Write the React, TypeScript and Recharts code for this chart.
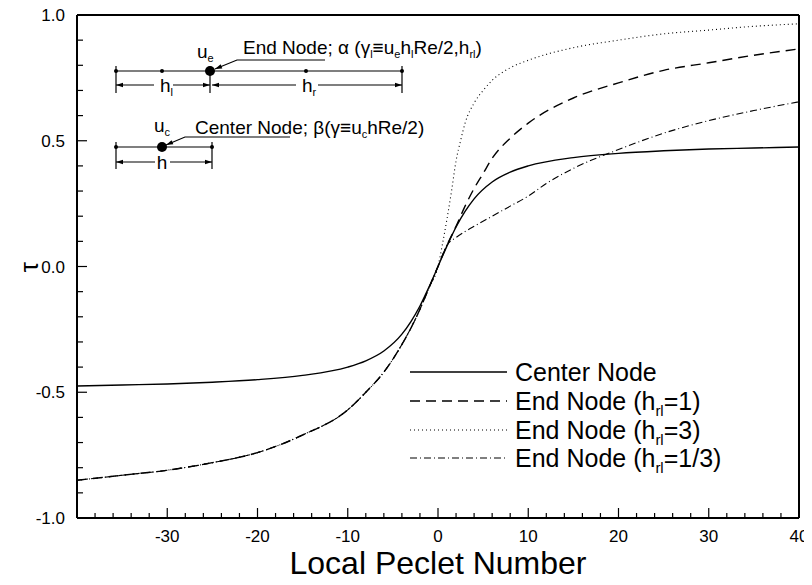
import { LineChart, Line, XAxis, YAxis, Customized } from 'recharts'

const font = "'Liberation Sans', Arial, Helvetica, sans-serif"

// centre node: tau vs local Peclet number
const centerX = [-40, -35, -30, -25, -20, -15, -10, -8, -6, -4, -3, -2, -1, 0, 1, 2, 3, 4, 6, 8, 10, 15, 20, 25, 30, 35, 40]
const centerTau = [-0.475, -0.471, -0.467, -0.46, -0.45, -0.433, -0.4, -0.375, -0.336, -0.269, -0.219, -0.157, -0.082, 0, 0.082, 0.157, 0.219, 0.269, 0.336, 0.375, 0.4, 0.433, 0.45, 0.46, 0.467, 0.471, 0.475]

// end nodes share the same branch for negative Pe
const endNegX = [-40, -35, -30, -25, -20, -15, -10, -8, -6, -4, -3, -2, -1, 0]
const endNegTau = [-0.85, -0.83, -0.81, -0.78, -0.74, -0.67, -0.57, -0.5, -0.42, -0.31, -0.245, -0.17, -0.085, 0]

const end1X = [1, 2, 3, 4, 5, 6, 8, 10, 15, 20, 25, 30, 35, 40]
const end1Tau = [0.085, 0.16, 0.24, 0.31, 0.37, 0.43, 0.51, 0.57, 0.67, 0.73, 0.78, 0.81, 0.84, 0.865]

const end3X = [0.5, 1, 1.5, 2, 2.5, 3, 4, 5, 6, 8, 10, 15, 20, 25, 30, 35, 40]
const end3Tau = [0.09, 0.19, 0.3, 0.42, 0.5, 0.57, 0.65, 0.7, 0.74, 0.79, 0.82, 0.87, 0.9, 0.925, 0.94, 0.955, 0.965]

const end13X = [1, 2, 4, 6, 8, 10, 12, 15, 20, 25, 30, 35, 40]
const end13Tau = [0.085, 0.115, 0.16, 0.2, 0.24, 0.28, 0.33, 0.39, 0.465, 0.53, 0.58, 0.62, 0.655]

const xLabels = [-30, -20, -10, 0, 10, 20, 30, 40]
const yLabels = [-1, -0.5, 0, 0.5, 1]
const xTicks = Array.from({ length: 41 }, (_, i) => -40 + 2 * i)
const yTicks = Array.from({ length: 21 }, (_, i) => Math.round((-1 + 0.1 * i) * 10) / 10)

const toPoints = (xs: number[], ys: number[]) => xs.map((x, i) => ({ x, tau: ys[i] }))

const centerData = toPoints(centerX, centerTau)
const end1Data = toPoints([...endNegX, ...end1X], [...endNegTau, ...end1Tau])
const end3Data = toPoints([...endNegX, ...end3X], [...endNegTau, ...end3Tau])
const end13Data = toPoints([...endNegX, ...end13X], [...endNegTau, ...end13Tau])

const series = [
  { key: 'center', data: centerData, dash: undefined, width: 1.4, label: 'Center Node', sub: '', tail: '' },
  { key: 'end1', data: end1Data, dash: '10 6', width: 1.4, label: 'End Node (h', sub: 'rl', tail: '=1)' },
  { key: 'end3', data: end3Data, dash: '1 3', width: 1.1, label: 'End Node (h', sub: 'rl', tail: '=3)' },
  { key: 'end13', data: end13Data, dash: '7 3 1 3', width: 1.1, label: 'End Node (h', sub: 'rl', tail: '=1/3)' },
]

const isMajorX = (v: number) => v % 10 === 0
const isMajorY = (v: number) => Math.abs(v * 2 - Math.round(v * 2)) < 1e-6

function BottomTick({ x, y, payload }: any) {
  const v = payload.value
  return (
    <g>
      <line x1={x} x2={x} y1={y} y2={y - (isMajorX(v) ? 10 : 5)} stroke="#000" strokeWidth={1.2} />
      {xLabels.includes(v) && (
        <text x={x} y={y + 24} textAnchor="middle" fontSize={17} fontFamily={font} fill="#000">
          {v}
        </text>
      )}
    </g>
  )
}

function TopTick({ x, y, payload }: any) {
  const v = payload.value
  return <line x1={x} x2={x} y1={y} y2={y + (isMajorX(v) ? 10 : 5)} stroke="#000" strokeWidth={1.2} />
}

function LeftTick({ x, y, payload }: any) {
  const v = payload.value
  const lab = yLabels.find((l) => Math.abs(l - v) < 1e-6)
  return (
    <g>
      <line x1={x} x2={x + (isMajorY(v) ? 10 : 6)} y1={y} y2={y} stroke="#000" strokeWidth={1.2} />
      {lab !== undefined && (
        <text x={x - 12} y={y + 6} textAnchor="end" fontSize={17} fontFamily={font} fill="#000">
          {lab.toFixed(1)}
        </text>
      )}
    </g>
  )
}

function RightTick({ x, y, payload }: any) {
  const v = payload.value
  return <line x1={x} x2={x - (isMajorY(v) ? 10 : 6)} y1={y} y2={y} stroke="#000" strokeWidth={1.2} />
}

// small filled arrowhead with tip at (x, y), coming from (fx, fy)
function Arrow({ x, y, fx, fy }: { x: number; y: number; fx: number; fy: number }) {
  const len = Math.hypot(x - fx, y - fy)
  const ux = (x - fx) / len
  const uy = (y - fy) / len
  const bx = x - ux * 7
  const by = y - uy * 7
  const pts = `${x},${y} ${bx - uy * 2.2},${by + ux * 2.2} ${bx + uy * 2.2},${by - ux * 2.2}`
  return <polygon points={pts} fill="#000" />
}

// text with subscripts: parts alternate normal / subscript as flagged
function Rich({ x, y, parts, size = 19, anchor }: { x: number; y: number; parts: [string, boolean][]; size?: number; anchor?: string }) {
  let lowered = false
  return (
    <text x={x} y={y} fontSize={size} textAnchor={anchor}>
      {parts.map(([t, sub], i) => {
        const dy = sub && !lowered ? 4 : !sub && lowered ? -4 : 0
        lowered = sub
        return (
          <tspan key={i} dy={dy} fontSize={sub ? 11 : size}>
            {t}
          </tspan>
        )
      })}
    </text>
  )
}

function Annotations() {
  const s = { stroke: '#000', strokeWidth: 1.2 }
  return (
    <g fontFamily={font} fill="#000">
      {/* end node sketch */}
      <line x1={116} y1={71} x2={402} y2={71} {...s} />
      {[116, 162, 306, 402].map((x) => <circle key={x} cx={x} cy={71} r={2} />)}
      <circle cx={210} cy={71} r={5} />
      {[116, 210, 402].map((x) => <line key={x} x1={x} x2={x} y1={66} y2={93} {...s} />)}
      <line x1={116} x2={154} y1={85} y2={85} {...s} />
      <line x1={173} x2={210} y1={85} y2={85} {...s} />
      <line x1={212} x2={296} y1={85} y2={85} {...s} />
      <line x1={318} x2={402} y1={85} y2={85} {...s} />
      <Arrow x={116} y={85} fx={128} fy={85} />
      <Arrow x={210} y={85} fx={198} fy={85} />
      <Arrow x={212} y={85} fx={224} fy={85} />
      <Arrow x={402} y={85} fx={390} fy={85} />
      <Rich x={160} y={92} parts={[['h', false], ['l', true]]} />
      <Rich x={302} y={92} parts={[['h', false], ['r', true]]} />
      <Rich x={197} y={58} parts={[['u', false], ['e', true]]} />
      <polyline points="215,69 237,60 325,60" fill="none" {...s} />
      <Arrow x={215} y={69} fx={237} fy={60} />
      <Rich
        x={243}
        y={54}
        parts={[
          ['End Node; α  (γ', false],
          ['l', true],
          ['≡u', false],
          ['e', true],
          ['h', false],
          ['l', true],
          ['Re/2,h', false],
          ['rl', true],
          [')', false],
        ]}
      />

      {/* center node sketch */}
      <line x1={116} y1={147} x2={212} y2={147} {...s} />
      {[116, 212].map((x) => <circle key={x} cx={x} cy={147} r={2} />)}
      <circle cx={162} cy={147} r={5} />
      {[116, 212].map((x) => <line key={x} x1={x} x2={x} y1={142} y2={169} {...s} />)}
      <line x1={116} x2={155} y1={162} y2={162} {...s} />
      <line x1={170} x2={212} y1={162} y2={162} {...s} />
      <Arrow x={116} y={162} fx={128} fy={162} />
      <Arrow x={212} y={162} fx={200} fy={162} />
      <text x={162} y={169} fontSize={19} textAnchor="middle">h</text>
      <Rich x={154} y={132} parts={[['u', false], ['c', true]]} />
      <polyline points="166,145 185,137 290,137" fill="none" {...s} />
      <Arrow x={166} y={145} fx={185} fy={137} />
      <Rich
        x={195}
        y={134}
        parts={[
          ['Center Node; β(γ≡u', false],
          ['c', true],
          ['hRe/2)', false],
        ]}
      />

      {/* axis titles */}
      <text x={438} y={574} fontSize={32} textAnchor="middle">Local Peclet Number</text>
      <text x={0} y={0} fontSize={26} textAnchor="middle" transform="translate(38,267) rotate(-90)">τ</text>
    </g>
  )
}

function LegendBox() {
  return (
    <div style={{ position: 'absolute', left: 410, top: 358, fontFamily: font, color: '#000' }}>
      {series.map((s) => (
        <div key={s.key} style={{ display: 'flex', alignItems: 'center', height: 28.7 }}>
          <svg width={97} height={28}>
            <line x1={0} x2={97} y1={14} y2={14} stroke="#000" strokeWidth={s.width} strokeDasharray={s.dash} />
          </svg>
          <span style={{ marginLeft: 8, fontSize: 25, lineHeight: '26px', whiteSpace: 'nowrap' }}>
            {s.label}
            {s.sub && <span style={{ fontSize: 15, position: 'relative', top: 6, lineHeight: '15px' }}>{s.sub}</span>}
            {s.tail}
          </span>
        </div>
      ))}
    </div>
  )
}

export default function App() {
  const axisLine = { stroke: '#000', strokeWidth: 2 }
  return (
    <div style={{ position: 'relative', width: 812, height: 585, margin: -8, background: '#fff' }}>
      <LineChart width={812} height={585} margin={{ top: 0, right: 0, bottom: 0, left: 0 }}>
        <XAxis
          dataKey="x"
          type="number"
          domain={[-40, 40]}
          ticks={xTicks}
          interval={0}
          height={67}
          tickSize={0}
          tickMargin={0}
          tickLine={false}
          axisLine={axisLine}
          tick={BottomTick}
          allowDuplicatedCategory={false}
        />
        <XAxis
          xAxisId="top"
          orientation="top"
          type="number"
          domain={[-40, 40]}
          ticks={xTicks}
          interval={0}
          height={15}
          tickSize={0}
          tickMargin={0}
          tickLine={false}
          axisLine={axisLine}
          tick={TopTick}
        />
        <YAxis
          type="number"
          domain={[-1, 1]}
          ticks={yTicks}
          interval={0}
          width={77}
          tickSize={0}
          tickMargin={0}
          tickLine={false}
          axisLine={axisLine}
          tick={LeftTick}
        />
        <YAxis
          yAxisId="right"
          orientation="right"
          type="number"
          domain={[-1, 1]}
          ticks={yTicks}
          interval={0}
          width={13}
          tickSize={0}
          tickMargin={0}
          tickLine={false}
          axisLine={axisLine}
          tick={RightTick}
        />
        {series.map((s) => (
          <Line
            key={s.key}
            data={s.data}
            dataKey="tau"
            type="monotone"
            stroke="#000"
            strokeWidth={s.width}
            strokeDasharray={s.dash}
            dot={false}
            activeDot={false}
            isAnimationActive={false}
          />
        ))}
        <Customized component={Annotations} />
      </LineChart>
      <LegendBox />
    </div>
  )
}
